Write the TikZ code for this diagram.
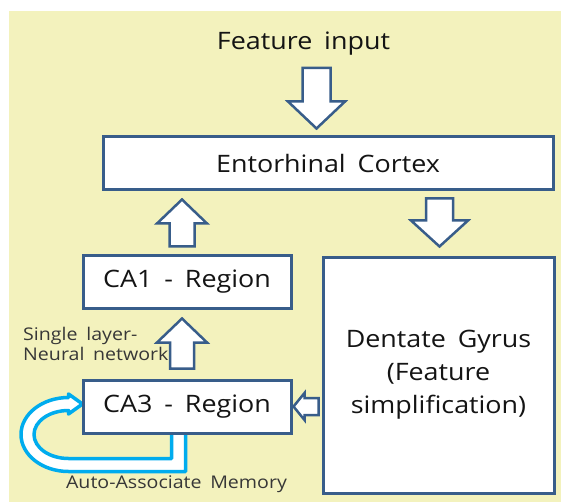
\documentclass[tikz,border=0pt]{standalone}
\usepackage{fontspec}
\setmainfont{Open Sans}[FakeStretch=1.12, WordSpace=1.7]
\usetikzlibrary{calc}
\definecolor{panel}{RGB}{243,242,189}
\definecolor{edge}{RGB}{56,93,138}
\definecolor{loopblue}{RGB}{0,172,238}
\definecolor{ink}{RGB}{20,20,20}
\pgfdeclarelayer{background}
\pgfsetlayers{background,main}

% block arrow: start, target, shaft half width, head half width, head length
\newcommand\blockarrow[5]{%
  \path ($#1$) coordinate (ba-s) ($#2$) coordinate (ba-t);
  \path ($(ba-t)!#5!(ba-s)$) coordinate (ba-b);
  \draw[arrowline]
    ($(ba-s)!#3!90:(ba-t)$) -- ($(ba-b)!#3!90:(ba-t)$) --
    ($(ba-b)!#4!90:(ba-t)$) -- (ba-t) --
    ($(ba-b)!#4!-90:(ba-t)$) -- ($(ba-b)!#3!-90:(ba-t)$) --
    ($(ba-s)!#3!-90:(ba-t)$) -- cycle;
}

\tikzset{
  region/.style={draw=edge, line width=3pt, fill=white, inner sep=0pt,
    text=ink, font=\fontsize{24}{33}\selectfont, align=center},
  arrowline/.style={draw=edge, line width=2.5pt, fill=white, line join=miter},
  caption/.style={text=ink, inner sep=0pt, font=\fontsize{24}{30}\selectfont},
  note/.style={text=ink!85, inner sep=0pt, font=\fontsize{17.5}{20}\selectfont},
  loopline/.style={draw=loopblue, line width=3.5pt, fill=white, line join=round},
}

\begin{document}
\begin{tikzpicture}[x=1pt, y=-1pt]
  \useasboundingbox (0,0) rectangle (561,502);

  % regions
  \node[caption, anchor=base] (input) at (303.5,50) {Feature input};
  \node[region, minimum width=450pt, minimum height=53pt] (ec) at (328,163.5) {Entorhinal Cortex};
  \node[region, minimum width=231pt, minimum height=236pt] (dg) at (438.5,375)
    {Dentate Gyrus\\(Feature\\simplification)};
  \node[region, minimum width=208pt, minimum height=53pt] (ca1) at (187,281.5) {CA1 - Region};
  \node[region, minimum width=208pt, minimum height=53pt] (ca3) at (187,406.5) {CA3 - Region};

  % labels
  \node[note, align=left, anchor=west] (slnn) at (23,344) {Single layer-\\Neural network};
  \node[note, anchor=base] (aam) at (176.5,488) {Auto-Associate Memory};

  % flow between regions
  \blockarrow{(input.base)+(13,18)}{(ec.north)+(-11.5,-7)}{14pt}{28.5pt}{27pt}
  \blockarrow{(ec.south -| dg.north)+(1,7)}{(dg.north)+(1,-9)}{13.5pt}{28.5pt}{26pt}
  \blockarrow{(ca1.north)+(-5,-7)}{(ca1.north |- ec.south)+(-5,8)}{12.5pt}{25pt}{24pt}
  \blockarrow{(ca3.north)+(-5,-10)}{(ca1.south)+(-5,9)}{12pt}{25pt}{24pt}
  \blockarrow{(dg.west |- ca3.east)+(-3,0)}{(ca3.east)+(1,0)}{8.5pt}{13.5pt}{11pt}

  \begin{pgfonlayer}{background}
    % panel
    \fill[panel] (9,11) rectangle (561,502);
    % auto-associative feedback loop of CA3
    \begin{scope}[shift={(ca3.south west)}]
      \filldraw[loopline] (104,0) -- (104,37) -- (-13,37)
        .. controls (-39.2,37) and (-60.5,20.4) .. (-60.5,0)
        .. controls (-60.5,-20.4) and (-39.2,-37) .. (-13,-37)
        -- (-13,-40.5) -- (1,-30.5) -- (-13,-20.5) -- (-13,-24)
        .. controls (-32.05,-24) and (-47.5,-13.25) .. (-47.5,0)
        .. controls (-47.5,13.25) and (-32.05,24) .. (-13,24)
        -- (90,24) -- (90,0);
    \end{scope}
  \end{pgfonlayer}
\end{tikzpicture}
\end{document}
